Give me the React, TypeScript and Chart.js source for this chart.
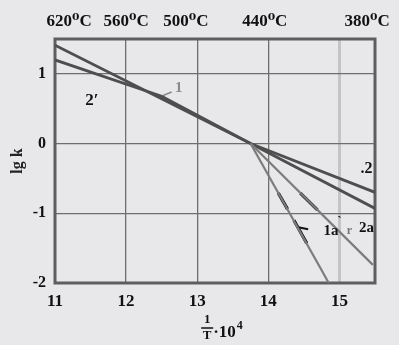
import React, { useEffect, useRef } from "react";
import { Chart, registerables } from "chart.js";
Chart.register(...registerables);

// ---- data ----
const xTicks = [11, 12, 13, 14, 15];
const yTicks = [-2, -1, 0, 1];
const topTickValues = [11.2, 12.0, 12.84, 13.95, 15.39];
const topTickLabels = ["620⁰C", "560⁰C", "500⁰C", "440⁰C", "380⁰C"];

const line2X = [11, 13.75, 15.5];
const line2Y = [1.41, 0, -0.7];
const line1X = [11, 12.5, 13.75, 15.5];
const line1Y = [1.2, 0.68, 0, -0.93];
const line1aX = [13.75, 14.85];
const line1aY = [0, -2];
const line2aX = [13.75, 15.47];
const line2aY = [0, -1.74];

// black dash overlays on 1a / 2a
const dash1aAX = [14.14, 14.27];
const dash1aAY = [-0.71, -0.94];
const dash1aBX = [14.36, 14.54];
const dash1aBY = [-1.1, -1.43];
const dash2aX = [14.45, 14.69];
const dash2aY = [-0.71, -0.95];
const lead1aX = [14.42, 14.56];
const lead1aY = [-1.2, -1.23];
const lead1X = [12.52, 12.64];
const lead1Y = [0.69, 0.74];

const curveLabels = ["2′", "1", ".2", "1a", "2a", "`", "r"];
const curveLabelX = [11.52, 12.74, 15.38, 14.88, 15.38, 15.0, 15.14];
const curveLabelY = [0.61, 0.8, -0.36, -1.26, -1.21, -1.12, -1.25];

const pts = (xs: number[], ys: number[]) => xs.map((x, i) => ({ x, y: ys[i] }));

export default function App() {
  const ref = useRef<HTMLCanvasElement | null>(null);
  useEffect(() => {
    if (!ref.current) return;
    const serif = "'Liberation Serif', 'DejaVu Serif', serif";
    const labelStyles = [
      { color: "#111", size: 17 },
      { color: "#8a8a8a", size: 15 },
      { color: "#111", size: 16 },
      { color: "#111", size: 15 },
      { color: "#111", size: 15 },
      { color: "#111", size: 12 },
      { color: "#777", size: 12 },
    ];
    const annot = {
      id: "annot",
      beforeDatasetsDraw(chart: any) {
        const { ctx, chartArea: a } = chart;
        ctx.save();
        ctx.strokeStyle = "#5e5e5e";
        ctx.lineWidth = 3;
        ctx.strokeRect(a.left, a.top, a.right - a.left, a.bottom - a.top);
        ctx.restore();
      },
      afterDatasetsDraw(chart: any) {
        const { ctx } = chart;
        const xs = chart.scales.x;
        const ys = chart.scales.y;
        ctx.save();
        ctx.textAlign = "center";
        ctx.textBaseline = "middle";
        curveLabels.forEach((t, i) => {
          const st = labelStyles[i];
          ctx.fillStyle = st.color;
          ctx.font = `bold ${st.size}px ${serif}`;
          ctx.fillText(t, xs.getPixelForValue(curveLabelX[i]), ys.getPixelForValue(curveLabelY[i]));
        });
        // axis title 1/T·10^4
        const cx = xs.getPixelForValue(13.14);
        const by = chart.chartArea.bottom;
        ctx.fillStyle = "#111";
        ctx.font = `bold 13px ${serif}`;
        ctx.fillText("1", cx, by + 37);
        ctx.fillText("T", cx, by + 53);
        ctx.strokeStyle = "#111";
        ctx.lineWidth = 1.5;
        ctx.beginPath();
        ctx.moveTo(cx - 6, by + 45);
        ctx.lineTo(cx + 6, by + 45);
        ctx.stroke();
        ctx.textAlign = "left";
        ctx.font = `bold 17px ${serif}`;
        ctx.fillText("·10", cx + 6, by + 50);
        const w = ctx.measureText("·10").width;
        ctx.font = `bold 12px ${serif}`;
        ctx.fillText("4", cx + 7 + w, by + 43);
        ctx.restore();
      },
    };

    const mainColor = "#4e4e4e";
    const lightColor = "#7c7c7c";
    const ds = (data: any, color: string, width: number) => ({
      data,
      borderColor: color,
      borderWidth: width,
      pointRadius: 0,
      showLine: true,
      fill: false,
      tension: 0,
      xAxisID: "x",
      yAxisID: "y",
    });

    const chart = new Chart(ref.current, {
      type: "line",
      data: {
        datasets: [
          ds(pts(line1aX, line1aY), lightColor, 2.2),
          ds(pts(line2aX, line2aY), lightColor, 2.2),
          ds(pts(line1X, line1Y), mainColor, 2.8),
          ds(pts(line2X, line2Y), mainColor, 2.8),
          ds(pts(dash1aAX, dash1aAY), "#111", 3.2),
          ds(pts(dash1aBX, dash1aBY), "#111", 3.2),
          ds(pts(dash2aX, dash2aY), "#111", 3.2),
          ds(pts(lead1aX, lead1aY), "#111", 2),
          ds(pts(lead1X, lead1Y), "#8a8a8a", 1.5),
        ] as any,
      },
      options: {
        animation: false,
        responsive: false,
        devicePixelRatio: 1,
        layout: { padding: { left: 0, right: 24, top: 0, bottom: 0 } },
        plugins: { legend: { display: false }, tooltip: { enabled: false } },
        scales: {
          x: {
            type: "linear",
            position: "bottom",
            min: 11,
            max: 15.5,
            afterBuildTicks: (s: any) => {
              s.ticks = xTicks.map((v) => ({ value: v }));
            },
            afterFit: (s: any) => {
              s.height = 62;
            },
            ticks: {
              padding: 8,
              color: "#111",
              font: { family: serif, size: 17, weight: "bold" },
            },
            grid: {
              drawTicks: false,
              color: (c: any) => (c.tick && c.tick.value === 15 ? "#c4c4c6" : "#6e6e6e"),
              lineWidth: (c: any) => (c.tick && c.tick.value === 15 ? 3 : 1.3),
            },
            border: { display: false },
          },
          x2: {
            type: "linear",
            position: "top",
            min: 11,
            max: 15.5,
            afterBuildTicks: (s: any) => {
              s.ticks = topTickValues.map((v) => ({ value: v }));
            },
            afterFit: (s: any) => {
              s.height = 39;
            },
            ticks: {
              padding: 7,
              color: "#111",
              font: { family: serif, size: 17, weight: "bold" },
              callback: (_v: any, i: number) => topTickLabels[i],
            },
            grid: { display: false, drawTicks: false },
            border: { display: false },
          },
          y: {
            type: "linear",
            min: -2,
            max: 1.5,
            afterBuildTicks: (s: any) => {
              s.ticks = yTicks.map((v) => ({ value: v }));
            },
            afterFit: (s: any) => {
              s.width = 55;
            },
            ticks: {
              padding: 9,
              color: "#111",
              font: { family: serif, size: 16, weight: "bold" },
              callback: (v: any) => (v < 0 ? "-" + Math.abs(v) : String(v)),
            },
            title: {
              display: true,
              text: "lg k",
              color: "#222",
              padding: { top: 8, bottom: 0 },
              font: { family: serif, size: 16, weight: "bold" },
            },
            grid: { drawTicks: false, color: "#6e6e6e", lineWidth: 1.3 },
            border: { display: false },
          },
        },
      },
      plugins: [annot],
    } as any);
    return () => chart.destroy();
  }, []);

  return (
    <div
      style={{
        position: "fixed",
        left: 0,
        top: 0,
        width: 399,
        height: 345,
        background: "#e8e8ea",
      }}
    >
      <canvas ref={ref} width={399} height={345} style={{ width: 399, height: 345, display: "block" }} />
    </div>
  );
}
